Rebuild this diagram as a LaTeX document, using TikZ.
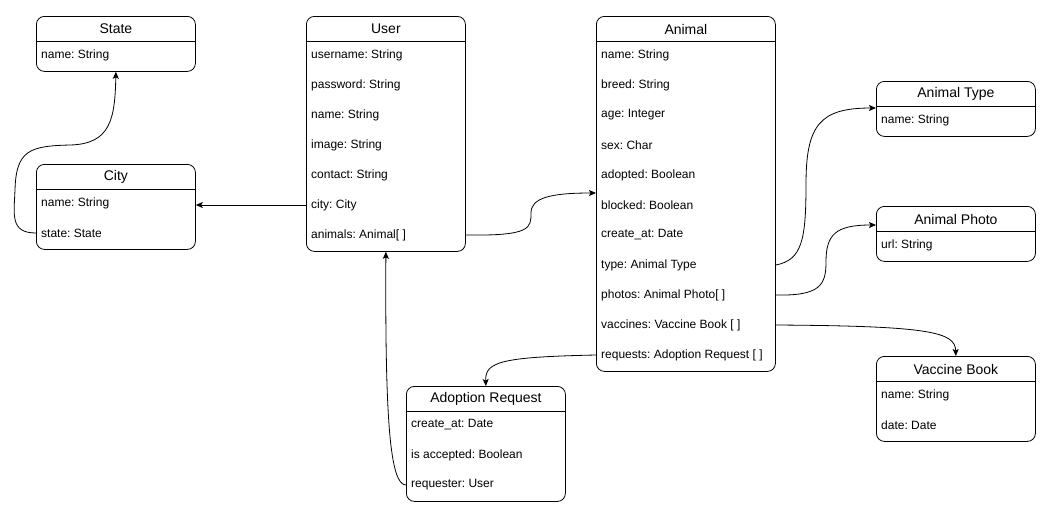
\documentclass[tikz,border=0pt]{standalone}
\usepackage{fontspec}
\setmainfont{Liberation Sans}
\usetikzlibrary{arrows.meta,calc}
\frenchspacing
\tikzset{
  umlbox/.style={draw, rounded corners=8pt, line width=0.8pt, fill=white, inner sep=0pt},
  umltitle/.style={font=\fontsize{14}{16}\selectfont, inner sep=0pt},
  umlattr/.style={font=\fontsize{12}{14}\selectfont, anchor=west, inner sep=0pt},
  arr/.style={-{Stealth[length=7pt,width=6pt,inset=1.5pt]}, line width=0.8pt},
}
\newcommand\umlclass[6]{%
  \node[umlbox, minimum width=#4pt, minimum height=#5pt, anchor=north west] (#1) at (#2,#3) {};
  \draw[line width=0.8pt] ($(#1.north west)+(0,25)$) -- ($(#1.north east)+(0,25)$);
  \node[umltitle] (#1-t) at ($(#1.north)+(0,13)$) {#6};
}
\newcommand\umlattrs[2]{%
  \foreach \t [count=\i] in {#2} {
    \node[umlattr] (#1-\i) at ($(#1.north west)+(5,9+30*\i)$) {\frenchspacing\t};
  }
}
\begin{document}
\begin{tikzpicture}[x=1pt,y=-1pt]
\useasboundingbox (0,0) rectangle (1051,520);
\fill[white] (0,0) rectangle (1051,520);

\umlclass{state}{36}{16}{159}{55}{State}
\umlattrs{state}{name: String}

\umlclass{city}{36}{164}{159}{85}{City}
\umlattrs{city}{name: String, state: State}

\umlclass{user}{306}{16}{159}{235}{User}
\umlattrs{user}{username: String, password: String, name: String, image: String, contact: String, city: City, animals: Animal[ ]}

\umlclass{animal}{596}{16}{179}{355}{Animal}
\umlattrs{animal}{name: String, breed: String, age: Integer, sex: Char, adopted: Boolean, blocked: Boolean, create\_at: Date, type: Animal Type, photos: Animal Photo[ ], vaccines: Vaccine Book [ ], requests: Adoption Request [ ]}

\umlclass{atype}{876}{81}{159}{55}{Animal Type}
\umlattrs{atype}{name: String}

\umlclass{aphoto}{876}{206}{159}{55}{Animal Photo}
\umlattrs{aphoto}{url: String}

\umlclass{vbook}{876}{356}{159}{85}{Vaccine Book}
\umlattrs{vbook}{name: String, date: Date}

\umlclass{adopt}{406}{386}{159}{115}{Adoption Request}
\umlattrs{adopt}{create\_at: Date, is accepted: Boolean, requester: User}

% connectors
\draw[arr] (city.west |- city-2) .. controls (10,233) and (14,215) .. (15,190)
  .. controls (16,150) and (30,146) .. (70,145)
  .. controls (110,144) and (115,120) .. (state.south);
\draw[arr] (user.west |- user-6) -- (city.east |- user-6);
\draw[arr] (user.east |- user-7) .. controls (531,236) and (531,228) .. (531,213)
  .. controls (531,198) and (550,193) .. ($(animal.north west)+(0,177)$);
\draw[arr] (adopt.west |- adopt-3) .. controls (390,485) and (385,420) .. (user.south);
\draw[arr] (animal.west |- animal-11) .. controls (500,357) and (485,362) .. (adopt.north);
\draw[arr] (animal.east |- animal-8) .. controls (802,260) and (806,240) .. (806,184)
  .. controls (806,125) and (820,108) .. ($(atype.north west)+(0,27)$);
\draw[arr] (animal.east |- animal-9) .. controls (820,296) and (826,285) .. (826,262)
  .. controls (826,235) and (835,225) .. ($(aphoto.north west)+(0,19)$);
\draw[arr] (animal.east |- animal-10) .. controls (930,326) and (955,332) .. (vbook.north);
\end{tikzpicture}
\end{document}
